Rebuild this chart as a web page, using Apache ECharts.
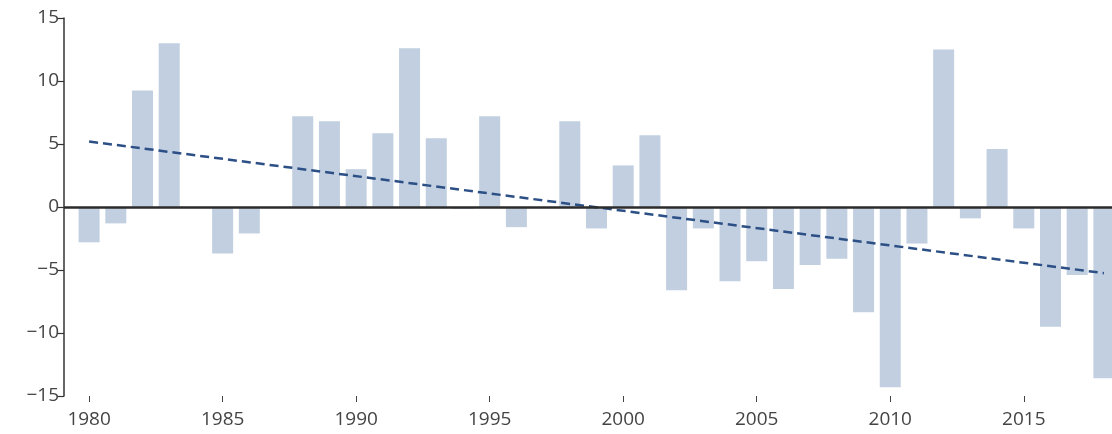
<!DOCTYPE html>
<html>
<head>
<meta charset="utf-8">
<script src="https://cdn.jsdelivr.net/npm/echarts@6/dist/echarts.min.js"></script>
<style>
  html, body { margin: 0; padding: 0; background: #ffffff; overflow: hidden; }
  #chart { width: 1112px; height: 434px; }
</style>
</head>
<body>
<div id="chart"></div>
<script>
// Annual anomalies, 1980–2018
const years = [1980, 1981, 1982, 1983, 1984, 1985, 1986, 1987, 1988, 1989,
               1990, 1991, 1992, 1993, 1994, 1995, 1996, 1997, 1998, 1999,
               2000, 2001, 2002, 2003, 2004, 2005, 2006, 2007, 2008, 2009,
               2010, 2011, 2012, 2013, 2014, 2015, 2016, 2017, 2018];
const anomalies = [-2.8, -1.3, 9.25, 13.0, 0, -3.7, -2.1, 0, 7.2, 6.8,
                   3.0, 5.85, 12.6, 5.45, -0.15, 7.2, -1.6, 0, 6.8, -1.7,
                   3.3, 5.7, -6.6, -1.7, -5.9, -4.3, -6.5, -4.6, -4.1, -8.35,
                   -14.3, -2.9, 12.5, -0.9, 4.6, -1.7, -9.5, -5.4, -13.6];

// Linear trend end points
const trendYears = [1980, 2018];
const trendValues = [5.2, -5.25];

const xTickYears = [1980, 1985, 1990, 1995, 2000, 2005, 2010, 2015];

const FONT = '"Open Sans", "Noto Sans", sans-serif';

const chart = echarts.init(document.getElementById('chart'), null, { renderer: 'canvas' });

chart.setOption({
  animation: false,
  backgroundColor: '#ffffff',
  // the plot area runs past the right edge of the canvas
  grid: {
    left: 64, width: 1065, top: 18, bottom: 38,
    containLabel: false,
    outerBoundsMode: 'none'
  },
  xAxis: {
    type: 'value',
    min: 1979.06,
    max: 2018.94,
    axisLine: { show: false, onZero: false },
    axisTick: {
      show: true,
      length: 6,
      customValues: xTickYears,
      lineStyle: { color: '#444', width: 1 }
    },
    axisLabel: {
      show: true,
      customValues: xTickYears,
      margin: 14,
      color: '#444',
      fontFamily: FONT,
      fontSize: 19,
      formatter: v => String(v)
    },
    splitLine: { show: false }
  },
  yAxis: {
    type: 'value',
    min: -15,
    max: 15,
    interval: 5,
    axisLine: { show: true, onZero: false, lineStyle: { color: '#333', width: 1.5 } },
    axisTick: { show: true, length: 6, lineStyle: { color: '#333', width: 1.2 } },
    axisLabel: {
      color: '#444',
      fontFamily: FONT,
      fontSize: 19,
      margin: 5,
      formatter: v => (v < 0 ? '\u2212' + Math.abs(v) : String(v))
    },
    splitLine: { show: false }
  },
  series: [
    {
      type: 'bar',
      data: years.map((y, i) => [y, anomalies[i]]),
      barWidth: 21,
      itemStyle: { color: '#c1cfe0' },
      silent: true,
      markLine: {
        symbol: 'none',
        silent: true,
        label: { show: false },
        lineStyle: { color: '#2b2b2b', width: 2.5, type: 'solid' },
        data: [{ yAxis: 0 }]
      },
      z: 2
    },
    {
      type: 'line',
      data: trendYears.map((y, i) => [y, trendValues[i]]),
      symbol: 'none',
      lineStyle: { color: '#2c4f86', width: 2.5, type: [9, 5] },
      silent: true,
      z: 4
    }
  ]
});
</script>
</body>
</html>
